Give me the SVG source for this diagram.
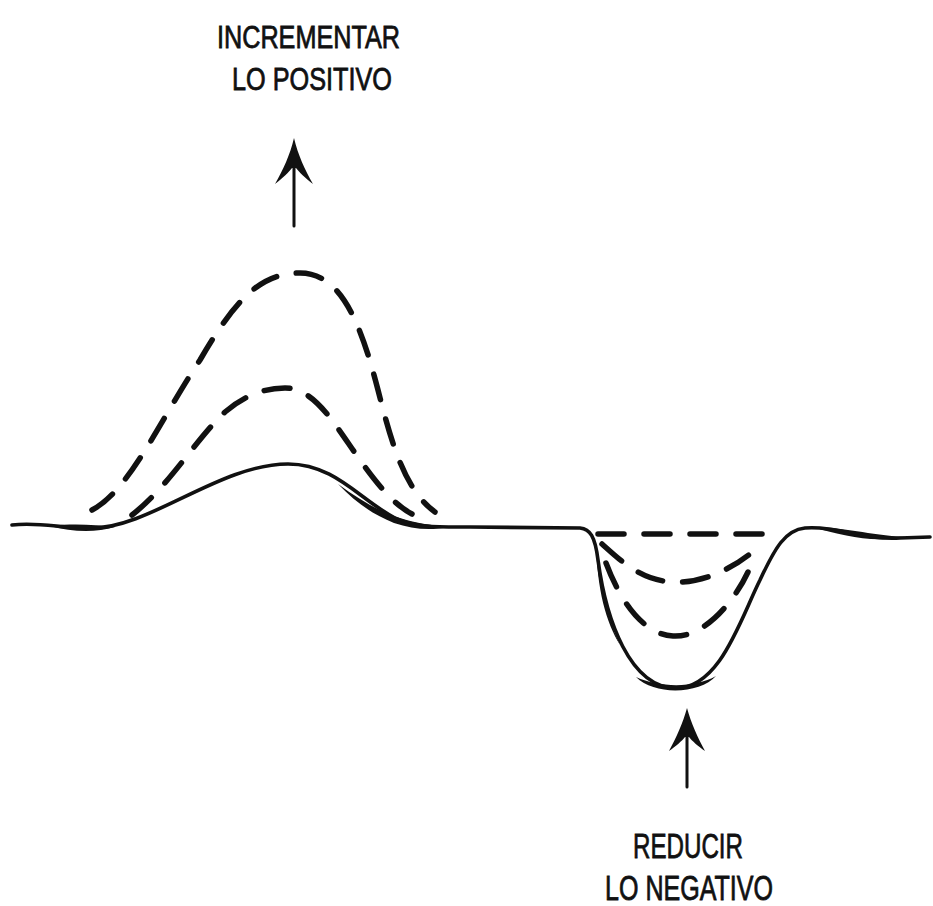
<svg xmlns="http://www.w3.org/2000/svg" width="933" height="906" viewBox="0 0 933 906">
<style>
.lbl{font-family:"Liberation Sans",Arial,sans-serif;fill:#111;stroke:#111;stroke-width:0.8;}
.solid{fill:none;stroke:#111;stroke-width:3.6;stroke-linecap:round;stroke-linejoin:round;}
.blob{fill:#111;stroke:none;}
.dash{fill:none;stroke:#111;stroke-width:5.5;stroke-linecap:round;stroke-dasharray:26 20;}
.shaft{fill:none;stroke:#111;stroke-width:3;stroke-linecap:round;}
.head{fill:#111;}
</style>
<rect width="933" height="906" fill="#fff"/>
<g id="label-top">
<text class="lbl" x="217" y="48" font-size="32" textLength="183" lengthAdjust="spacingAndGlyphs">INCREMENTAR</text>
<text class="lbl" x="232" y="90" font-size="32" textLength="160" lengthAdjust="spacingAndGlyphs">LO POSITIVO</text>
</g>
<g id="label-bottom">
<text class="lbl" x="633" y="858" font-size="35" textLength="110" lengthAdjust="spacingAndGlyphs">REDUCIR</text>
<text class="lbl" x="605" y="900" font-size="35" textLength="168" lengthAdjust="spacingAndGlyphs">LO NEGATIVO</text>
</g>
<g id="curves">
<path id="baseline" class="solid" d="M12,525 C40,522 60,528 92,528 C150,528 220,464 288,464 C335,464 360,500 395,518 C415,528 440,527 470,527 L580,528 C590,529 595,536 598,560 C606,620 630,688 676,688 C720,688 740,620 760,580 C775,548 785,530 805,528 C840,526 860,540 900,538 L930,537"/>
<path class="blob" d="M50,526 C75,523 95,525 115,527 C95,533 72,532 50,526 Z"/>
<path class="blob" d="M338,484 C360,500 380,512 400,518 C415,523 430,525 448,527 C430,531 412,529 394,523 C374,515 356,503 338,484 Z"/>
<path class="blob" d="M636,677 C660,688 695,688 716,676 C700,694 655,696 636,677 Z"/>
<path class="blob" d="M596,542 C599,580 605,612 620,645 C606,622 597,590 596,542 Z"/>
<path class="blob" d="M812,527 C845,527 868,535 905,537 C870,543 845,536 812,527 Z"/>
<path id="pos-high" class="dash" d="M92,510 C130,490 160,420 200,360 C235,300 260,273 300,273 C340,273 360,320 378,390 C392,445 405,490 435,512"/>
<path id="pos-mid" class="dash" d="M132,515 C170,485 195,440 225,412 C245,395 265,388 285,388 C315,388 335,425 360,460 C380,488 395,505 412,514"/>
<path id="neg-1" class="dash" d="M598,534 L782,534"/>
<path id="neg-2" class="dash" d="M602,544 C620,560 640,580 672,582 C705,584 740,565 760,545"/>
<path id="neg-3" class="dash" d="M606,563 C618,595 640,634 673,636 C705,638 735,600 748,572"/>
</g>
<g id="arrow-up-top">
<path class="shaft" d="M294,150 L294,226"/>
<path class="head" d="M294,138 C298,155 305,170 313,184 C305,178 299,172 296,168 L292,168 C289,172 283,178 275,184 C283,170 290,155 294,138 Z"/>
</g>
<g id="arrow-up-bottom">
<path class="shaft" d="M687,720 L687,787"/>
<path class="head" d="M687,708 C691,723 698,738 705,751 C698,746 692,741 689,737 L685,737 C682,741 676,746 669,751 C676,738 683,723 687,708 Z"/>
</g>
</svg>
